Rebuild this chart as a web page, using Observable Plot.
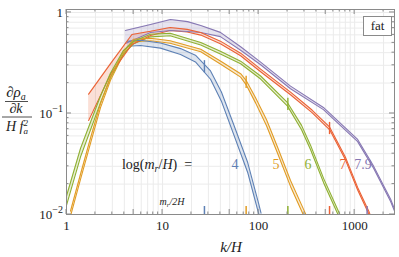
<!DOCTYPE html>
<html><head><meta charset="utf-8">
<script src="https://cdn.jsdelivr.net/npm/d3@7"></script>
<script src="https://cdn.jsdelivr.net/npm/@observablehq/plot@0.6"></script>
<style>
body{margin:0;background:#fff;}
#chart{width:399px;height:257px;}
#chart svg text, #chart svg tspan { font-family: "Liberation Serif", "Times New Roman", "DejaVu Serif", serif; }
</style></head><body><div id="chart"></div>
<script>
// ---- data ----
const series = ["4", "5", "6", "7", "7.9"];
const colors = ["#5E81B5", "#E19C24", "#8FB032", "#EB6235", "#8778B3"];

const blueK = [4.3, 5.9, 9.5, 15.4, 22, 31.6, 41, 55, 77, 100, 106];
const blueV = [0.49, 0.50, 0.47, 0.41, 0.35, 0.24, 0.147, 0.0695, 0.0292, 0.0115, 0.0092];
const blueW = [1.06, 1.06, 1.06, 1.07, 1.08, 1.10, 1.11, 1.12, 1.12, 1.12, 1.12];

const orangeK = [1.1, 1.41, 1.78, 2.26, 2.87, 3.8, 5, 7.5, 12, 25, 40, 65, 74, 93, 121, 158, 215, 294, 316];
const orangeV = [0.0102, 0.0243, 0.054, 0.120, 0.222, 0.375, 0.528, 0.54, 0.51, 0.42, 0.32, 0.238, 0.203, 0.135, 0.081, 0.043, 0.0203, 0.0105, 0.009];
const orangeW = [1.06, 1.06, 1.06, 1.05, 1.04, 1.03, 1.03, 1.03, 1.03, 1.03, 1.035, 1.04, 1.05, 1.06, 1.07, 1.07, 1.07, 1.07, 1.07];

const greenK = [1, 1.4, 2.26, 2.87, 3.9, 5, 7.5, 12, 25, 40, 65, 105, 200, 280, 348, 475, 680, 720];
const greenV = [0.0137, 0.041, 0.138, 0.238, 0.402, 0.504, 0.591, 0.605, 0.49, 0.40, 0.320, 0.227, 0.123, 0.0726, 0.046, 0.0217, 0.0102, 0.0090];
const greenW = [1.11, 1.10, 1.08, 1.05, 1.04, 1.03, 1.03, 1.03, 1.03, 1.03, 1.03, 1.035, 1.04, 1.05, 1.05, 1.05, 1.05, 1.05];

const redK = [1.7, 2.9, 4.8, 7.5, 12, 18, 25, 40, 65, 105, 215, 360, 550, 800, 1075, 1420, 1500];
const redV = [0.115, 0.28, 0.54, 0.62, 0.687, 0.66, 0.615, 0.505, 0.384, 0.267, 0.158, 0.105, 0.071, 0.036, 0.018, 0.0102, 0.0088];
const redW = [1.35, 1.127, 1.12, 1.05, 1.035, 1.03, 1.03, 1.03, 1.03, 1.03, 1.03, 1.03, 1.03, 1.03, 1.03, 1.03, 1.03];

const purpleK = [4.1, 7.5, 12.1, 18.2, 25, 40, 65, 105, 215, 473, 1075, 1580, 2370, 2800];
const purpleV = [0.572, 0.694, 0.752, 0.725, 0.686, 0.605, 0.44, 0.313, 0.181, 0.112, 0.054, 0.0292, 0.0138, 0.0093];
const purpleW = [1.16, 1.095, 1.134, 1.12, 1.083, 1.05, 1.04, 1.03, 1.03, 1.025, 1.025, 1.025, 1.025, 1.025];

// m_r/2H markers (bottom ticks and on-curve ticks)
const markK = [27.3, 74.2, 201.7, 548, 1348];
const curveMarkS = ["4", "5", "6", "7"];
const curveMarkK = [27.3, 74.2, 201.7, 548];
const curveMarkV = [0.29, 0.203, 0.123, 0.071];

const xTickLabels = [1, 5, 10, 50, 100, 500, 1000];
const yTickLabels = [0.01, 0.1, 1];

// ---- build tables ----
const rows = [];
function addSeries(s, K, V, Wd) {
  K.forEach((k, i) => rows.push({s, k, v: V[i], lo: V[i] / Wd[i], hi: V[i] * Wd[i]}));
}
addSeries("4", blueK, blueV, blueW);
addSeries("5", orangeK, orangeV, orangeW);
addSeries("6", greenK, greenV, greenW);
addSeries("7", redK, redV, redW);
addSeries("7.9", purpleK, purpleV, purpleW);

const bottomMarks = series.map((s, i) => ({s, k: markK[i]}));
const curveMarks = curveMarkS.map((s, i) => ({s, k: curveMarkK[i], v: curveMarkV[i]}));

const xMinor = [];
for (let e = 0; e <= 3; e++) for (let n = 1; n <= 9; n++) { const v = n * 10 ** e; if (v <= 2600) xMinor.push(v); }
const yMinor = [];
for (let e = -2; e <= 0; e++) for (let n = 1; n <= 9; n++) { const v = +(n * 10 ** e).toPrecision(3); if (v <= 1.0) yMinor.push(v); }

const frameStroke = "#8a8a8a";
const plot = Plot.plot({
  width: 399, height: 257,
  marginLeft: 66, marginRight: 5, marginTop: 9, marginBottom: 43,
  style: {fontSize: "13px", color: "#222", background: "#fff"},
  x: {type: "log", domain: [1, 2600]},
  y: {type: "log", domain: [0.01, 1.07]},
  color: {domain: series, range: colors},
  marks: [
    Plot.gridX(xMinor, {stroke: "#ebebeb", strokeOpacity: 1}),
    Plot.gridY(yMinor, {stroke: "#ebebeb", strokeOpacity: 1}),
    Plot.areaY(rows, {x: "k", y1: "lo", y2: "hi", z: "s", fill: "s", fillOpacity: 0.2, clip: true}),
    Plot.line(rows, {x: "k", y: "lo", z: "s", stroke: "s", strokeWidth: 1.1, clip: true}),
    Plot.line(rows, {x: "k", y: "hi", z: "s", stroke: "s", strokeWidth: 1.1, clip: true}),
    Plot.ruleX(curveMarks, {x: "k", y1: d => d.v / 1.15, y2: d => d.v * 1.15, stroke: "s", strokeWidth: 1.4}),
    Plot.ruleX(bottomMarks, {x: "k", y1: 0.01, y2: 0.012, stroke: "s", strokeWidth: 1.5}),
    Plot.frame({stroke: frameStroke}),
    Plot.axisX(xTickLabels, {tickSize: 0, tickPadding: 6, tickFormat: d => String(d), fontSize: 13, label: null, fill: "#222"}),
    Plot.axisY(yTickLabels, {tickSize: 0, tickPadding: 3, tickFormat: () => "", label: null})
  ]
});
document.getElementById("chart").appendChild(plot);

// ---- decorations using the plot's scales ----
const svg = d3.select(plot);
const sx = plot.scale("x"), sy = plot.scale("y");
const X = v => sx.apply(v), Y = v => sy.apply(v);
const fTop = 9, fBottom = 257 - 43, fLeft = 66, fRight = 399 - 5;
const tg = svg.append("g").attr("stroke", frameStroke).attr("stroke-width", 1);
xMinor.forEach(v => {
  const len = xTickLabels.includes(v) ? 5 : 2.5, x = X(v);
  tg.append("line").attr("x1", x).attr("x2", x).attr("y1", fBottom).attr("y2", fBottom - len);
  tg.append("line").attr("x1", x).attr("x2", x).attr("y1", fTop).attr("y2", fTop + len);
});
yMinor.forEach(v => {
  const len = yTickLabels.includes(v) ? 5 : 2.5, y = Y(v);
  tg.append("line").attr("y1", y).attr("y2", y).attr("x1", fLeft).attr("x2", fLeft + len);
  tg.append("line").attr("y1", y).attr("y2", y).attr("x1", fRight).attr("x2", fRight - len);
});

const T = svg.append("g").attr("fill", "#222");

// y tick labels with superscripts
const yl = [["1", null], ["10", "\u22121"], ["10", "\u22122"]];
[1, 0.1, 0.01].forEach((v, i) => {
  const t = T.append("text").attr("x", 63).attr("y", Y(v) + 5).attr("text-anchor", "end").attr("font-size", 13);
  t.append("tspan").text(yl[i][0]);
  if (yl[i][1]) t.append("tspan").attr("font-size", 10).attr("dy", -6).text(yl[i][1]);
});

// y-axis title: (∂ρ_a/∂k) / (H f_a^2)
let t1 = T.append("text").attr("x", 16).attr("y", 97).attr("text-anchor", "middle").attr("font-size", 15);
t1.append("tspan").text("\u2202");
t1.append("tspan").attr("font-style", "italic").text("\u03C1");
t1.append("tspan").attr("font-style", "italic").attr("font-size", 10).attr("dy", 3).text("a");
T.append("line").attr("x1", 5).attr("x2", 28).attr("y1", 101.5).attr("y2", 101.5).attr("stroke", "#222").attr("stroke-width", 0.8);
let t2 = T.append("text").attr("x", 16).attr("y", 113).attr("text-anchor", "middle").attr("font-size", 14);
t2.append("tspan").text("\u2202");
t2.append("tspan").attr("font-style", "italic").text("k");
T.append("line").attr("x1", 2).attr("x2", 32).attr("y1", 117).attr("y2", 117).attr("stroke", "#222").attr("stroke-width", 0.8);
let t3 = T.append("text").attr("x", 17).attr("y", 131).attr("text-anchor", "middle").attr("font-size", 14).attr("font-style", "italic");
t3.append("tspan").text("H f");
t3.append("tspan").attr("font-size", 9).attr("dy", -5).text("2");
t3.append("tspan").attr("font-size", 9).attr("dx", -4.5).attr("dy", 8).text("a");

// x-axis title
T.append("text").attr("x", 231).attr("y", 252).attr("text-anchor", "middle").attr("font-size", 15).attr("font-style", "italic").text("k/H");

// annotation
let t4 = T.append("text").attr("x", 157).attr("y", 169).attr("font-size", 14);
t4.append("tspan").text("log(");
t4.append("tspan").attr("font-style", "italic").text("m");
t4.append("tspan").attr("font-style", "italic").attr("font-size", 10).attr("dy", 3).text("r");
t4.append("tspan").attr("dy", -3).text("/");
t4.append("tspan").attr("font-style", "italic").text("H");
t4.append("tspan").text(")  =");
const labX = [235, 276, 308, 343, 363];
series.forEach((s, i) => {
  T.append("text").attr("x", labX[i]).attr("y", 169).attr("text-anchor", "middle").attr("font-size", 14).attr("fill", colors[i]).text(s);
});

// m_r/2H label
let t5 = T.append("text").attr("x", 172).attr("y", 205).attr("font-size", 10).attr("font-style", "italic");
t5.append("tspan").text("m");
t5.append("tspan").attr("font-size", 7).attr("dy", 2).text("r");
t5.append("tspan").attr("dy", -2).text("/2H");

// "fat" box
T.append("rect").attr("x", 363.5).attr("y", 16.5).attr("width", 28).attr("height", 19).attr("fill", "#fff").attr("stroke", frameStroke);
T.append("text").attr("x", 377.5).attr("y", 30).attr("text-anchor", "middle").attr("font-size", 13).text("fat");
</script>
</body></html>
